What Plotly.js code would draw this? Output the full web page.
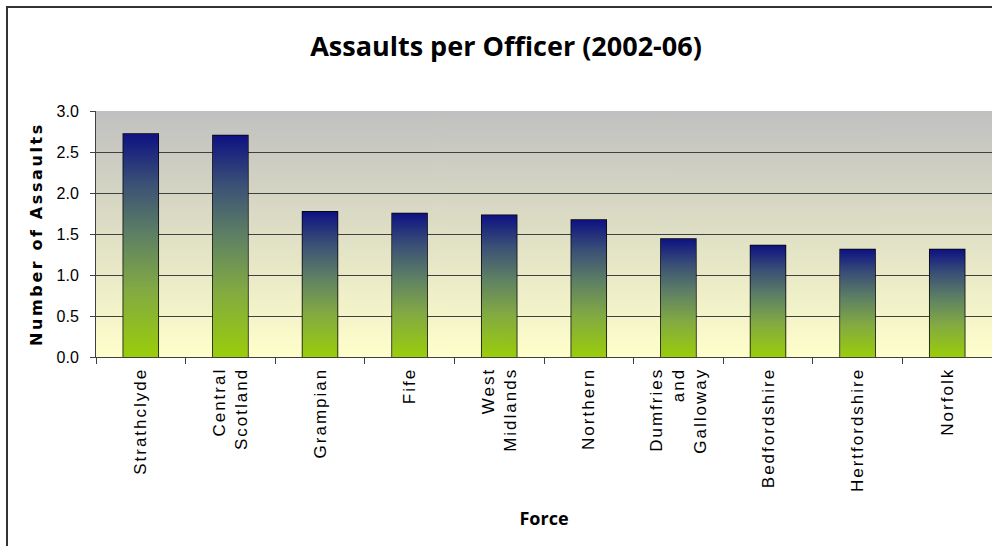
<!DOCTYPE html>
<html><head><meta charset="utf-8">
<script src="https://cdn.plot.ly/plotly-3.0.1.min.js"></script>
<style>
html,body{margin:0;padding:0;background:#fff;}
#chart{width:992px;height:546px;}
.xtick text{letter-spacing:2px;}
.ytitle{letter-spacing:2.6px;}
</style></head><body><div id="chart"></div>
<script>
// ---- data ----
const forces = ['Strathclyde','Central<br>Scotland','Grampian','Fife','West<br>Midlands','Northern','Dumfries<br>and<br>Galloway','Bedfordshire','Hertfordshire','Norfolk'];
const assaults = [2.72, 2.70, 1.77, 1.75, 1.73, 1.67, 1.44, 1.36, 1.31, 1.31];
const yTickVals = [0, 0.5, 1, 1.5, 2, 2.5, 3];
const titleText = 'Assaults per Officer (2002-06)';
const xTitle = 'Force';
const yTitle = 'Number of Assaults';

// ---- style ----
const W = 992, H = 546;
const M = {l: 96, r: 0, t: 111, b: 189};
const barWidth = 0.39;
const barScale = [[0,'#9acd0a'],[0.3,'#82aa42'],[0.55,'#5e8064'],[0.78,'#3a5076'],[1,'#0e1282']];

const idx = forces.map((_, i) => i);
const traces = [];
assaults.forEach((v, i) => {
  const x0 = i - barWidth / 2, x1 = i + barWidth / 2;
  traces.push({
    type: 'scatter', mode: 'lines', x: [x0, x0, x1, x1, x0], y: [0, v, v, 0, 0],
    fill: 'toself', line: {width: 0, color: 'rgba(0,0,0,0)'},
    fillgradient: {type: 'vertical', colorscale: barScale, start: 0, stop: v},
    hoverinfo: 'skip', showlegend: false
  });
});
traces.push({
  type: 'bar', x: idx, y: assaults, width: barWidth,
  marker: {color: 'rgba(0,0,0,0)', line: {color: '#000', width: 1.5}},
  hoverinfo: 'skip', showlegend: false
});

// background gradient image
const cv = document.createElement('canvas');
cv.width = 4; cv.height = 256;
const ctx = cv.getContext('2d');
const g = ctx.createLinearGradient(0, 0, 0, 256);
g.addColorStop(0, '#c0c0c0'); g.addColorStop(1, '#ffffcc');
ctx.fillStyle = g; ctx.fillRect(0, 0, 4, 256);
const bgImg = cv.toDataURL();

const pw = W - M.l - M.r, ph = H - M.t - M.b;
const px2x = p => (p - M.l) / pw;
const py2y = p => 1 - (p - M.t) / ph;

const layout = {
  width: W, height: H, margin: M,
  paper_bgcolor: '#fff', plot_bgcolor: 'rgba(0,0,0,0)',
  showlegend: false, hovermode: false,
  title: {text: '<b>' + titleText + '</b>', x: 506 / W, xanchor: 'center', y: 1 - 47 / H, yanchor: 'middle',
          font: {family: 'Open Sans', size: 27, color: '#000'}},
  xaxis: {
    type: 'linear', range: [-0.5, forces.length - 0.5], tickmode: 'array', tickvals: idx, ticktext: forces,
    tickangle: -90, ticks: '', showgrid: false, zeroline: false,
    showline: true, linecolor: '#404040', linewidth: 1,
    minor: {tickmode: 'array', tickvals: idx.concat([forces.length]).map(i => i - 0.5), ticks: 'outside', ticklen: 6, tickcolor: '#404040', showgrid: false},
    tickfont: {family: 'Liberation Sans', size: 17, color: '#000'},
    ticklabelstandoff: 3,
    title: {text: '<b>' + xTitle + '</b>', font: {family: 'Open Sans', size: 18, color: '#000'}, standoff: 21},
    fixedrange: true
  },
  yaxis: {
    range: [0, 3], tickmode: 'array', tickvals: yTickVals, tickformat: '.1f',
    ticks: 'outside', ticklen: 5, tickcolor: '#404040',
    showgrid: true, gridcolor: '#404040', gridwidth: 1, zeroline: false,
    showline: true, linecolor: '#404040', linewidth: 1,
    tickfont: {family: 'Liberation Sans', size: 16, color: '#000'},
    ticklabelstandoff: 8,
    title: {text: '<b>' + yTitle + '</b>', font: {family: 'DejaVu Sans', size: 16, color: '#000'}, standoff: 9},
    fixedrange: true
  },
  images: [{source: bgImg, xref: 'paper', yref: 'paper', x: 0, y: 1, sizex: 1, sizey: 1, sizing: 'stretch', xanchor: 'left', yanchor: 'top', layer: 'below'}],
  shapes: [
    {type: 'line', xref: 'paper', yref: 'paper', x0: px2x(7), x1: px2x(7), y0: py2y(6), y1: py2y(560), line: {color: '#333', width: 2}},
    {type: 'line', xref: 'paper', yref: 'paper', x0: px2x(6), x1: px2x(1000), y0: py2y(7), y1: py2y(7), line: {color: '#333', width: 2}}
  ]
};

Plotly.newPlot('chart', traces, layout, {displayModeBar: false, staticPlot: true});
</script></body></html>
